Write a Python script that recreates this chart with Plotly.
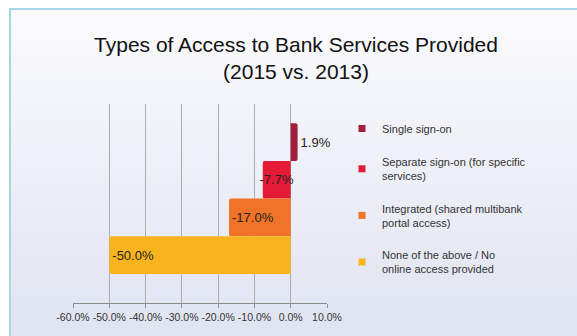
import base64
import plotly.graph_objects as go

# ---- data ----
series_names = [
    "Single sign-on",
    "Separate sign-on (for specific<br>services)",
    "Integrated (shared multibank<br>portal access)",
    "None of the above / No<br>online access provided",
]
values = [1.9, -7.7, -17.0, -50.0]
value_labels = ["1.9%", "-7.7%", "-17.0%", "-50.0%"]
colors = ["#A11E3E", "#E31B37", "#F07327", "#F8B41C"]
label_positions = ["outside", "inside", "inside", "inside"]
label_anchors = ["start", "middle", "end", "end"]
tick_values = [-60, -50, -40, -30, -20, -10, 0, 10]
tick_labels = ["-60.0%", "-50.0%", "-40.0%", "-30.0%", "-20.0%", "-10.0%", "0.0%", "10.0%"]
title_text = "Types of Access to Bank Services Provided<br>(2015 vs. 2013)"

FONT = "Liberation Sans, Arial, Helvetica, sans-serif"

fig = go.Figure()
n = len(values)
for i, (name, v, lab, c, pos, anc) in enumerate(
    zip(series_names, values, value_labels, colors, label_positions, label_anchors)
):
    fig.add_trace(go.Bar(
        x=[v], y=[n - 1 - i], orientation="h", width=1,
        marker=dict(color=c, line=dict(width=0), cornerradius=2),
        text=[lab], textposition=pos, insidetextanchor=anc, textangle=0,
        textfont=dict(family=FONT, size=13, color="#222222"),
        outsidetextfont=dict(family=FONT, size=13, color="#222222"),
        cliponaxis=False, showlegend=False, hoverinfo="skip",
    ))
# legend entries (small square swatches)
for i, (name, c) in enumerate(zip(series_names, colors)):
    fig.add_trace(go.Scatter(
        x=[None], y=[None], mode="markers", name=name,
        marker=dict(symbol="square", size=7, color=c),
        legendgroup=f"g{i}", showlegend=True,
    ))

# background gradient frame via svg image
svg = (
    '<svg xmlns="http://www.w3.org/2000/svg" width="600" height="340" preserveAspectRatio="none">'
    '<defs><linearGradient id="g" x1="0" y1="0" x2="0" y2="1">'
    '<stop offset="0" stop-color="#FBFBFD"/><stop offset="1" stop-color="#DFE3F1"/>'
    '</linearGradient></defs>'
    '<rect x="0" y="0" width="600" height="340" fill="url(#g)"/>'
    '<rect x="1" y="1" width="620" height="360" fill="none" stroke="#A8D5E4" stroke-width="2"/>'
    '</svg>'
)
src = "data:image/svg+xml;base64," + base64.b64encode(svg.encode()).decode()

W, H = 577, 336
ml, mr, mt, mb = 73, 250, 104, 33
pw, ph = W - ml - mr, H - mt - mb
fig.add_layout_image(
    source=src, xref="paper", yref="paper",
    x=(9 - ml) / pw, y=(H - mb - 8) / ph,
    sizex=600 / pw, sizey=340 / ph,
    xanchor="left", yanchor="top", sizing="stretch", layer="below",
)

fig.update_layout(
    width=W, height=H,
    margin=dict(l=ml, r=mr, t=mt, b=mb),
    paper_bgcolor="white", plot_bgcolor="rgba(0,0,0,0)",
    barmode="overlay",
    uniformtext=dict(mode="show", minsize=13),
    title=dict(
        text=title_text, x=0.513, xref="container", xanchor="center",
        y=1 - 51.5 / H, yref="container", yanchor="middle",
        font=dict(family=FONT, size=21, color="#111111"),
    ),
    xaxis=dict(
        range=[-60, 10], tickvals=tick_values, ticktext=tick_labels,
        showgrid=True, gridcolor="#ADADAD", gridwidth=1,
        showline=True, linecolor="#8C8C8C", linewidth=1,
        ticks="outside", ticklen=4, tickcolor="#8C8C8C",
        tickfont=dict(family=FONT, size=10.5, color="#333333"),
        zeroline=False, fixedrange=True,
    ),
    yaxis=dict(
        range=[-1.27, 4.01], showticklabels=False, showgrid=False,
        zeroline=False, showline=False, ticks="", fixedrange=True,
    ),
    legend=dict(
        x=(342 - ml) / pw, y=(H - mb - 114) / ph, xanchor="left", yanchor="top",
        bgcolor="rgba(0,0,0,0)", font=dict(family=FONT, size=11, color="#333333"),
        tracegroupgap=15, itemwidth=30,
    ),
    showlegend=True,
)

fig.write_html("out.html")
